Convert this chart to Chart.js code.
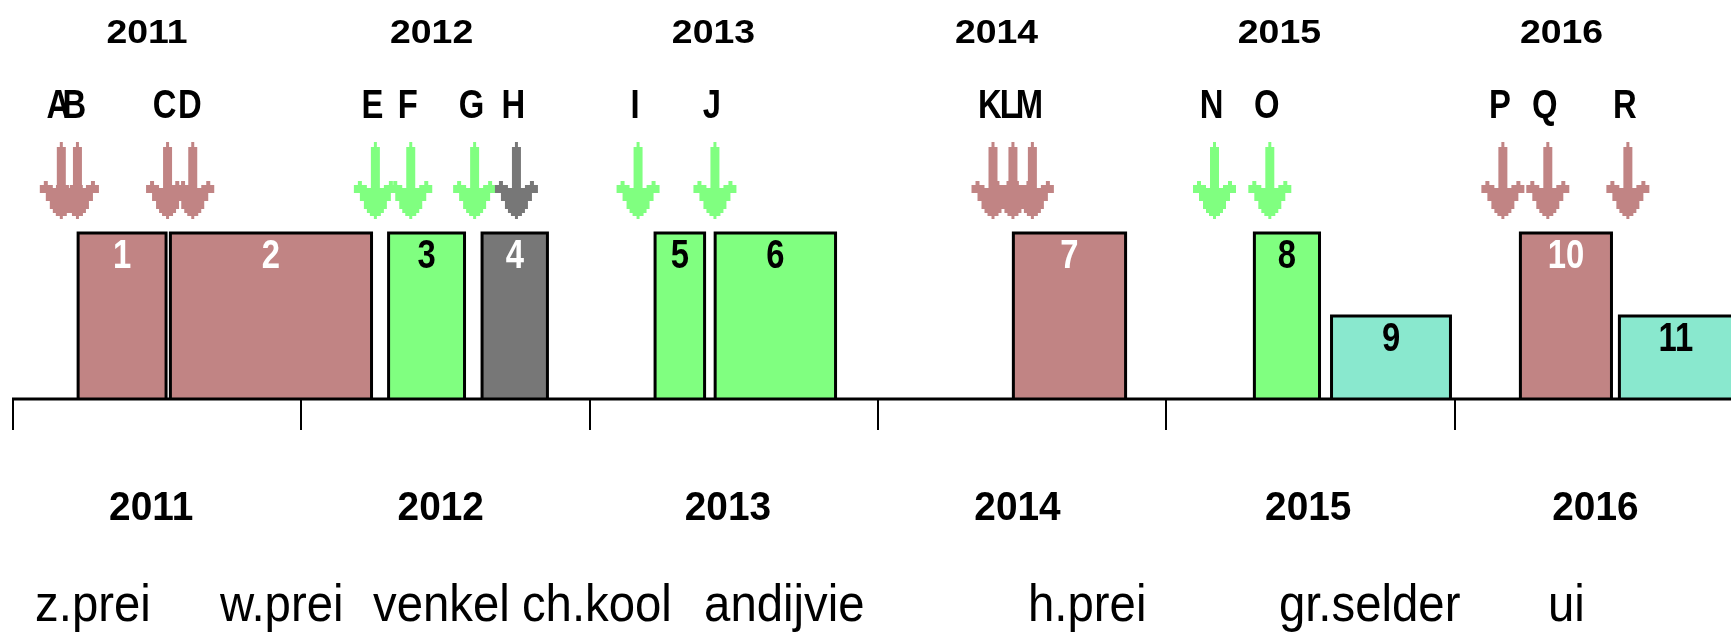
<!DOCTYPE html>
<html><head><meta charset="utf-8">
<script src="https://cdn.jsdelivr.net/npm/chart.js@4.4.1/dist/chart.umd.min.js"></script>
<style>html,body{margin:0;padding:0;background:#fff;overflow:hidden}canvas{display:block}</style>
</head><body>
<canvas id="c" width="1731" height="632"></canvas>
<script>
// ---------- data ----------
const YEARS = ['2011', '2012', '2013', '2014', '2015', '2016'];
const YEAR_START = [0, 12, 24, 36, 48, 60];            // months since Jan 2011 (axis ticks)
const TOP_YEAR_POS = [5.58, 17.42, 29.15, 40.93, 52.70, 64.44];
const BOTTOM_YEAR_POS = [5.75, 17.8, 29.75, 41.8, 53.9, 65.85];

const CROPS = ['z.prei', 'w.prei', 'venkel', 'ch.kool', 'andijvie', 'h.prei', 'gr.selder', 'ui'];
const CROP_POS = [0.92, 8.61, 14.98, 21.18, 28.76, 42.24, 52.68, 63.88];

const BAR_IDS = ['1', '2', '3', '4', '5', '6', '7', '8', '9', '10', '11'];
const BAR_START = [2.71, 6.55, 15.63, 19.52, 26.72, 29.22, 41.63, 51.66, 54.87, 62.73, 66.85];
const BAR_END = [6.37, 14.92, 18.79, 22.24, 28.78, 34.23, 46.30, 54.37, 59.82, 66.52, 71.55];
const BAR_HEIGHT = [2, 2, 2, 2, 2, 2, 2, 2, 1, 2, 1];
const BAR_GROUP = ['rose', 'rose', 'green', 'grey', 'green', 'green', 'rose', 'green', 'teal', 'rose', 'teal'];

const ARROW_LABELS = ['A', 'B', 'C', 'D', 'E', 'F', 'G', 'H', 'I', 'J', 'K', 'L', 'M', 'N', 'O', 'P', 'Q', 'R'];
const ARROW_MONTH = [2.01, 2.68, 6.43, 7.48, 15.08, 16.55, 19.21, 20.95, 26.01, 29.21, 40.78, 41.61, 42.42, 50.0, 52.3, 62.0, 63.87, 67.2];
const ARROW_GROUP = ['rose', 'rose', 'rose', 'rose', 'green', 'green', 'green', 'grey', 'green', 'green', 'rose', 'rose', 'rose', 'green', 'green', 'rose', 'rose', 'rose'];

// ---------- styles / layout ----------
const COLORS = { rose: '#c18484', green: '#80ff80', grey: '#777777', teal: '#89e8ce' };
const TEXT_ON = { rose: '#ffffff', grey: '#ffffff', green: '#000000', teal: '#000000' };
const UNIT = 83;           // px per bar unit
const AXIS_PX = 399;
const H = 632, W = 1731;
const PX_PER_MONTH = 24.03;
const X_MIN = -13 / PX_PER_MONTH;
const X_MAX = X_MIN + W / PX_PER_MONTH;
const Y_MAX = AXIS_PX / UNIT;
const Y_MIN = -(H - AXIS_PX) / UNIT;
const ARROW_LEVEL = (AXIS_PX - 180.5) / UNIT;
const LV_TOP_YEAR = (AXIS_PX - 43) / UNIT;
const LV_LETTER = (AXIS_PX - 118) / UNIT;
const LV_BOTTOM_YEAR = (AXIS_PX - 520) / UNIT;
const LV_CROP = (AXIS_PX - 621) / UNIT;

function makeArrow(color) {
  const w = 47, h = 77, c = document.createElement('canvas');
  c.width = w; c.height = h;
  const g = c.getContext('2d');
  g.fillStyle = color;
  const C = 23, T = 142;
  const span = (y0, y1, a, b) => g.fillRect(C + a, y0 - T, b - a + 1, y1 - y0 + 1);
  const sym = (y0, y1, a, b) => { span(y0, y1, a, b); span(y0, y1, -b, -a); };
  span(142, 146, -1, 1);
  span(147, 208, -4, 4);
  sym(181, 184, 14, 17);
  sym(185, 192, 9, 21);
  span(188, 192, -10, 10);
  span(193, 200, -15, 15);
  span(201, 208, -11, 11);
  span(209, 212, -8, 8);
  span(213, 215, -5, 5);
  span(216, 218, -1, 1);
  return c;
}
const ARROW_IMG = {};
Object.keys(COLORS).forEach(k => ARROW_IMG[k] = makeArrow(COLORS[k]));

function txt(ctx, s, x, y, font, sx, color, align) {
  ctx.save();
  ctx.font = font;
  ctx.fillStyle = color;
  ctx.textBaseline = 'alphabetic';
  ctx.textAlign = align;
  ctx.translate(x, y);
  ctx.scale(sx, 1);
  ctx.fillText(s, 0, 0);
  ctx.restore();
}

const decor = {
  id: 'decor',
  beforeDraw(chart) {
    const ctx = chart.ctx;
    ctx.save(); ctx.fillStyle = '#fff'; ctx.fillRect(0, 0, chart.width, chart.height); ctx.restore();
  },
  afterDatasetsDraw(chart) {
    const ctx = chart.ctx, xs = chart.scales.x, ys = chart.scales.y;
    const y0 = ys.getPixelForValue(0);
    ctx.save();
    ctx.strokeStyle = '#000';
    ctx.lineWidth = 3;
    ctx.beginPath();
    ctx.moveTo(Math.round(xs.getPixelForValue(YEAR_START[0])) - 1, y0);
    ctx.lineTo(chart.width, y0);
    ctx.stroke();
    ctx.lineWidth = 2;
    YEAR_START.forEach(m => {
      const x = Math.round(xs.getPixelForValue(m));
      ctx.beginPath(); ctx.moveTo(x, y0); ctx.lineTo(x, y0 + 31); ctx.stroke();
    });
    ctx.restore();

    const BOLD = 'bold 40px "Liberation Sans", Arial, sans-serif';
    // bar numbers
    BAR_IDS.forEach((id, i) => {
      const xc = (xs.getPixelForValue(BAR_START[i]) + xs.getPixelForValue(BAR_END[i])) / 2;
      const top = ys.getPixelForValue(BAR_HEIGHT[i]);
      txt(ctx, id, xc, top + 35, BOLD, 0.82, TEXT_ON[BAR_GROUP[i]], 'center');
    });
    // arrow letters
    ARROW_LABELS.forEach((l, i) => {
      txt(ctx, l, xs.getPixelForValue(ARROW_MONTH[i]) - 3, ys.getPixelForValue(LV_LETTER), BOLD, 0.82, '#000', 'center');
    });
    // years
    YEARS.forEach((y, i) => {
      txt(ctx, y, xs.getPixelForValue(TOP_YEAR_POS[i]), ys.getPixelForValue(LV_TOP_YEAR), 'bold 34px "Liberation Sans", Arial, sans-serif', 1.1, '#000', 'center');
      txt(ctx, y, xs.getPixelForValue(BOTTOM_YEAR_POS[i]), ys.getPixelForValue(LV_BOTTOM_YEAR), 'bold 40px "Liberation Sans", Arial, sans-serif', 0.97, '#000', 'center');
    });
    // crop names
    CROPS.forEach((c, i) => {
      txt(ctx, c, xs.getPixelForValue(CROP_POS[i]), ys.getPixelForValue(LV_CROP), '52px "Liberation Sans", Arial, sans-serif', 0.91, '#000', 'left');
    });
  }
};

const datasets = BAR_IDS.map((id, i) => ({
  type: 'line',
  label: id,
  data: [
    { x: BAR_START[i], y: 0 },
    { x: BAR_START[i], y: BAR_HEIGHT[i] },
    { x: BAR_END[i], y: BAR_HEIGHT[i] },
    { x: BAR_END[i], y: 0 }
  ],
  borderColor: '#000',
  borderWidth: 3,
  backgroundColor: COLORS[BAR_GROUP[i]],
  fill: 'origin',
  pointRadius: 0,
  tension: 0,
  borderJoinStyle: 'miter',
  borderCapStyle: 'butt'
}));
datasets.push({
  type: 'scatter',
  label: 'arrows',
  data: ARROW_MONTH.map(m => ({ x: m, y: ARROW_LEVEL })),
  pointStyle: ctx => ARROW_IMG[ARROW_GROUP[ctx.dataIndex]],
  pointRadius: 10,
  showLine: false
});

new Chart(document.getElementById('c'), {
  type: 'line',
  data: { datasets },
  options: {
    responsive: false,
    devicePixelRatio: 1,
    animation: false,
    events: [],
    layout: { padding: 0, autoPadding: false },
    plugins: { legend: { display: false }, tooltip: { enabled: false } },
    scales: {
      x: { type: 'linear', min: X_MIN, max: X_MAX, display: false },
      y: { type: 'linear', min: Y_MIN, max: Y_MAX, display: false }
    }
  },
  plugins: [decor]
});
</script>
</body></html>
